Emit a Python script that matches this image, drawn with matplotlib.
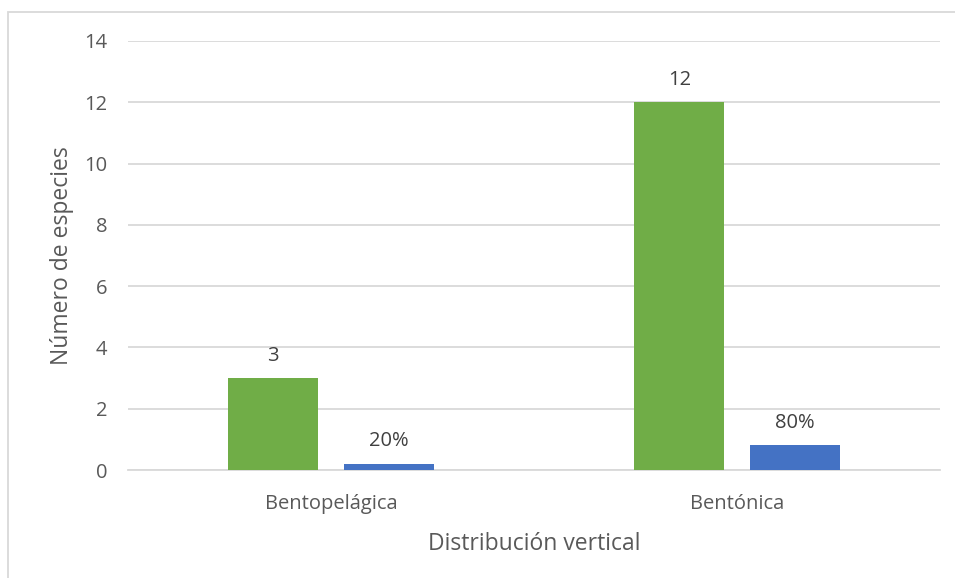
import matplotlib.pyplot as plt
import numpy as np

# Species count and share per vertical distribution group
categories = ['Bentopelágica', 'Bentónica']
species_count = [3, 12]
species_share = [0.2, 0.8]

plt.rcParams['font.family'] = ['Open Sans', 'DejaVu Sans']
text_color = '#595959'
grid_color = '#d9d9d9'

fig = plt.figure(figsize=(9.55, 5.78), dpi=100)
ax = fig.add_axes([128 / 955, 1 - 470 / 578, 812 / 955, 429 / 578])

x = np.arange(len(categories))
width = 0.222
offset = 0.142

bars_count = ax.bar(x - offset, species_count, width, color='#70ad47', zorder=3)
bars_share = ax.bar(x + offset, species_share, width, color='#4472c4', zorder=3)

for bar, val in zip(bars_count, species_count):
    ax.annotate(f'{val}', (bar.get_x() + bar.get_width() / 2, bar.get_height()),
                xytext=(0, 9), textcoords='offset points', ha='center', va='bottom',
                fontsize=14.5, color='#404040')
for bar, val in zip(bars_share, species_share):
    ax.annotate(f'{val:.0%}', (bar.get_x() + bar.get_width() / 2, bar.get_height()),
                xytext=(0, 9), textcoords='offset points', ha='center', va='bottom',
                fontsize=14.5, color='#404040')

ax.set_xlim(-0.5, 1.5)
ax.set_ylim(0, 14)
ax.set_yticks(range(0, 15, 2))
ax.set_xticks(x)
ax.set_xticklabels(categories)
ax.yaxis.grid(True, color=grid_color, linewidth=1.3, zorder=0)
for side in ['top', 'right', 'left']:
    ax.spines[side].set_visible(False)
ax.spines['bottom'].set_color(grid_color)
ax.spines['bottom'].set_linewidth(1.3)
ax.tick_params(axis='both', length=0, labelsize=14.5, colors=text_color)
ax.tick_params(axis='y', pad=15)
ax.tick_params(axis='x', pad=17)

ax.set_xlabel('Distribución vertical', fontsize=16.5, color=text_color, labelpad=13)
ax.set_ylabel('Número de especies', fontsize=16.5, color=text_color, labelpad=7)

# light frame around the chart area
fig.patches.append(plt.Rectangle((8 / 955, -0.1), 1.1, 1 - 12 / 578 + 0.1,
                                 transform=fig.transFigure, fill=False,
                                 edgecolor='#d9d9d9', linewidth=1.3))

fig.savefig('out.png', dpi=100)
